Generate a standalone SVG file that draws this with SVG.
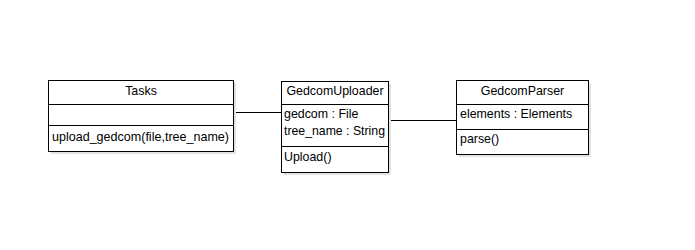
<svg xmlns="http://www.w3.org/2000/svg" width="695" height="250" viewBox="0 0 695 250">
  <style>
    .shadow { fill: #e2e2e2; stroke: none; }
    .box { fill: #ffffff; stroke: #000000; stroke-width: 1; }
    .sep { stroke: #000000; stroke-width: 1; }
    .conn { stroke: #000000; stroke-width: 1; fill: none; }
    text { font-family: "Liberation Sans", Arial, sans-serif; font-size: 12.4px; fill: #000000; }
    .title { text-anchor: middle; }
  </style>
  <rect width="695" height="250" fill="#ffffff"/>

  <!-- associations -->
  <g id="connectors">
    <line class="conn" x1="233.5" y1="112.5" x2="281.5" y2="112.5"/>
    <line class="conn" x1="388.5" y1="120.5" x2="456.5" y2="120.5"/>
  </g>

  <!-- Tasks class -->
  <g id="tasks">
    <rect class="shadow" x="51" y="83" width="185" height="71"/>
    <rect class="box" x="48.5" y="80.5" width="185" height="71"/>
    <line class="sep" x1="48.5" y1="104.5" x2="233.5" y2="104.5"/>
    <line class="sep" x1="48.5" y1="125.5" x2="233.5" y2="125.5"/>
    <text class="title" x="141" y="95">Tasks</text>
    <text x="52" y="141" textLength="177" lengthAdjust="spacingAndGlyphs">upload_gedcom(file,tree_name)</text>
  </g>

  <!-- GedcomUploader class -->
  <g id="gedcom-uploader">
    <rect class="shadow" x="284" y="84" width="107" height="91"/>
    <rect class="box" x="281.5" y="81.5" width="107" height="91"/>
    <line class="sep" x1="281.5" y1="104.5" x2="388.5" y2="104.5"/>
    <line class="sep" x1="281.5" y1="146.5" x2="388.5" y2="146.5"/>
    <text class="title" x="335" y="95">GedcomUploader</text>
    <text x="284" y="118">gedcom : File</text>
    <text x="284" y="135" textLength="101" lengthAdjust="spacingAndGlyphs">tree_name : String</text>
    <text x="284" y="161">Upload()</text>
  </g>

  <!-- GedcomParser class -->
  <g id="gedcom-parser">
    <rect class="shadow" x="459" y="83" width="132" height="74"/>
    <rect class="box" x="456.5" y="80.5" width="132" height="74"/>
    <line class="sep" x1="456.5" y1="104.5" x2="588.5" y2="104.5"/>
    <line class="sep" x1="456.5" y1="129.5" x2="588.5" y2="129.5"/>
    <text class="title" x="522.5" y="95">GedcomParser</text>
    <text x="460" y="118">elements : Elements</text>
    <text x="460" y="143">parse()</text>
  </g>
</svg>
